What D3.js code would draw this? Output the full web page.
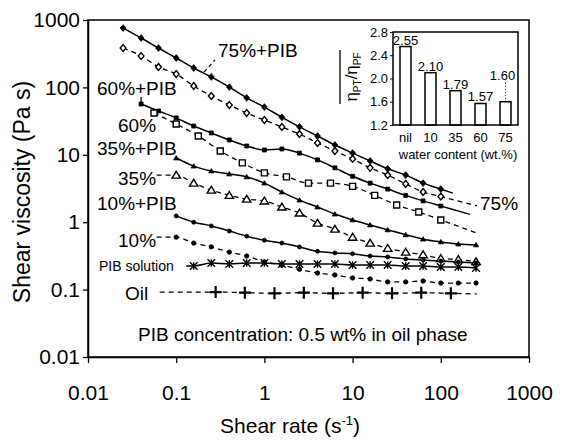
<!DOCTYPE html>
<html>
<head>
  <style>
    body, html { margin: 0; padding: 0; background: #fff; }
    svg text { font-family: Arial, "Liberation Sans", sans-serif; fill: #000; }
  </style>
</head>
<body>
  <svg id="svg" width="563" height="444"></svg>

  <script src="https://d3js.org/d3.v7.min.js"></script>
  <script>
    // shear rates (1/s) used by most curves, 0.2 decade apart
    const shearRate = [0.025, 0.04, 0.063, 0.1, 0.158, 0.25, 0.4, 0.63, 1, 1.58, 2.5, 4, 6.3, 10, 15.8, 25, 40, 63, 100, 158, 251]
    const shearRate60 = [0.056, 0.1, 0.178, 0.316, 0.562, 1, 1.78, 3.16, 5.62, 10, 17.8, 31.6, 56.2, 100]
    const oilRate = [0.28, 0.6, 1.3, 2.8, 6, 13, 28, 60, 130]

    // viscosities (Pa s)
    const visc75PIB = [760, 541, 384, 273, 194, 143, 101, 70, 51, 36, 26, 19, 14, 10.6, 8.1, 6.2, 5.0, 3.8, 3.1, null, null]
    const visc75 = [384, 292, 201, 158, 105, 74.5, 54.8, 41.7, 32.8, 25.8, 20.3, 15.0, 11.4, 8.7, 6.4, 5.0, 3.7, 2.8, 2.4, null, null]
    const visc60PIB = [null, 56.7, 44.7, 35.2, 26.7, 21.1, 16.6, 13.5, 11.8, 12.2, 10.6, 8.4, 6.4, 4.8, 3.8, 3.1, 2.5, 2.07, 1.74, null, null]
    const visc60 = [41.7, 28.6, 19.0, 11.4, 7.6, 5.4, 4.7, 3.8, 3.8, 3.4, 2.5, 1.8, 1.42, 1.08]
    const visc35PIB = [null, null, null, 8.97, 6.8, 5.75, 5.2, 4.7, 3.8, 2.8, 2.13, 1.68, 1.32, 1.08, 0.91, 0.77, 0.65, 0.56, 0.51, 0.475, 0.46]
    const visc35 = [null, null, null, 5.0, 3.8, 3.0, 2.5, 2.2, 2.07, 1.68, 1.37, 0.97, 0.79, 0.60, 0.49, 0.41, 0.36, 0.33, 0.29, 0.28, 0.26]
    const visc10PIB = [null, null, null, 1.24, 1.0, 0.88, 0.74, 0.62, 0.54, 0.49, 0.43, 0.37, 0.35, 0.34, 0.315, 0.305, 0.285, 0.275, 0.265, 0.257, 0.248]
    const visc10 = [null, null, null, 0.60, 0.49, 0.43, 0.36, 0.315, 0.257, 0.23, 0.20, 0.176, 0.165, 0.149, 0.144, 0.130, 0.130, 0.134, 0.125, 0.125, 0.125]
    const viscPIBSolution = [null, null, null, null, 0.224, 0.248, 0.24, 0.248, 0.248, 0.24, 0.24, 0.24, 0.24, 0.232, 0.232, 0.232, 0.224, 0.224, 0.216, 0.216, 0.209]
    const viscOil = [0.092, 0.09, 0.088, 0.09, 0.088, 0.09, 0.088, 0.09, 0.088]

    const axisTicks = [0.01, 0.1, 1, 10, 100, 1000]

    // inset: viscosity ratio with / without PIB
    const waterContent = ['nil', '10', '35', '60', '75']
    const viscRatio = [2.55, 2.10, 1.79, 1.57, 1.60]
    const ratioTicks = [1.2, 1.6, 2.0, 2.4, 2.8]

    const svg = d3.select('#svg')
    const plotLeft = 88, plotRight = 529, plotTop = 20, plotBottom = 357

    const x = d3.scaleLog().domain([0.01, 1000]).range([plotLeft, plotRight])
    const y = d3.scaleLog().domain([0.01, 1000]).range([plotBottom, plotTop])

    // from/to: where the fitted line starts / stops (shear rate)
    const seriesList = [
      { rates: shearRate, visc: visc75PIB, dashed: false, shape: 'diamond', fill: true, size: 3.4, to: 137 },
      { rates: shearRate, visc: visc75, dashed: true, shape: 'diamond', fill: false, size: 3.4, to: 256 },
      { rates: shearRate, visc: visc60PIB, dashed: false, shape: 'square', fill: true, size: 2, to: 214 },
      { rates: shearRate60, visc: visc60, dashed: true, shape: 'square', fill: false, size: 3, to: 256 },
      { rates: shearRate, visc: visc35PIB, dashed: false, shape: 'triangle', fill: true, size: 2.4 },
      { rates: shearRate, visc: visc35, dashed: true, shape: 'triangle', fill: false, size: 3.8, from: 0.06 },
      { rates: shearRate, visc: visc10PIB, dashed: false, shape: 'circle', fill: true, size: 2 },
      { rates: shearRate, visc: visc10, dashed: true, shape: 'circle', fill: true, size: 2.2, from: 0.06 },
      { rates: shearRate, visc: viscPIBSolution, dashed: false, shape: 'asterisk', fill: false, size: 3.8, from: 0.13 },
      { rates: oilRate, visc: viscOil, dashed: true, shape: 'plus', fill: false, size: 6, from: 0.065, to: 256 }
    ]

    function markerPath(shape, s) {
      switch (shape) {
        case 'diamond': return `M0,${-s}L${s * 0.85},0L0,${s}L${-s * 0.85},0Z`
        case 'square': return `M${-s},${-s}H${s}V${s}H${-s}Z`
        case 'triangle': return `M0,${-s}L${s * 1.1},${s * 0.8}L${-s * 1.1},${s * 0.8}Z`
        case 'circle': return `M${s},0A${s},${s} 0 1 1 ${-s},0A${s},${s} 0 1 1 ${s},0Z`
        case 'asterisk': return `M${-s},${-s}L${s},${s}M${-s},${s}L${s},${-s}M0,${-s}V${s}`
        case 'plus': return `M${-s},0H${s}M0,${-s}V${s}`
      }
    }

    // extend the fitted line: flat at the start, following the slope at the end
    function linePoints(pts, from, to) {
      const out = pts.slice()
      if (from) out.unshift([from, pts[0][1]])
      if (to) {
        const a = pts[pts.length - 2], b = pts[pts.length - 1]
        const slope = Math.log10(b[1] / a[1]) / Math.log10(b[0] / a[0])
        out.push([to, b[1] * Math.pow(to / b[0], slope)])
      }
      return out
    }

    const lineGen = d3.line()
      .x(d => x(d[0]))
      .y(d => y(d[1]))
      .curve(d3.curveMonotoneX)

    const graph = svg.append('g')

    seriesList.forEach(s => {
      const pts = s.rates.map((r, i) => [r, s.visc[i]]).filter(d => d[1] != null)
      graph.append('path')
        .attr('d', lineGen(linePoints(pts, s.from, s.to)))
        .attr('fill', 'none')
        .attr('stroke', '#000')
        .attr('stroke-width', s.dashed ? 1.3 : 1.5)
        .attr('stroke-dasharray', s.dashed ? '5,4' : null)
      s.pts = pts
    })

    seriesList.forEach(s => {
      const open = s.shape === 'asterisk' || s.shape === 'plus'
      graph.selectAll(null)
        .data(s.pts)
        .join('path')
        .attr('transform', d => `translate(${x(d[0])},${y(d[1])})`)
        .attr('d', markerPath(s.shape, s.size))
        .attr('fill', open ? 'none' : (s.fill ? '#000' : '#fff'))
        .attr('stroke', '#000')
        .attr('stroke-width', s.shape === 'plus' ? 2.2 : (s.fill ? 0.8 : 1.4))
    })

    // frame
    svg.append('rect')
      .attr('x', plotLeft).attr('y', plotTop)
      .attr('width', plotRight - plotLeft).attr('height', plotBottom - plotTop)
      .attr('fill', 'none').attr('stroke', '#000').attr('stroke-width', 1.5)

    const leftAxis = d3.axisLeft(y).tickValues(axisTicks).tickFormat(d3.format('~g'))
      .tickSize(5).tickSizeOuter(0).tickPadding(3)
    const gy = svg.append('g').attr('transform', `translate(${plotLeft},0)`).call(leftAxis)

    const bottomAxis = d3.axisBottom(x).tickValues(axisTicks).tickFormat(d3.format('~g'))
      .tickSize(6).tickSizeOuter(0).tickPadding(22)
    const gx = svg.append('g').attr('transform', `translate(0,${plotBottom})`).call(bottomAxis)

    ;[gx, gy].forEach(g => {
      g.select('.domain').attr('stroke-width', 1.5)
      g.selectAll('.tick line').attr('stroke-width', 1.3)
      g.selectAll('.tick text').attr('font-size', 21).attr('font-family', 'Arial, "Liberation Sans", sans-serif')
    })

    // axis titles
    const xTitle = svg.append('text')
      .attr('x', 290).attr('y', 433)
      .attr('text-anchor', 'middle').attr('font-size', 21)
    xTitle.append('tspan').text('Shear rate (s')
    xTitle.append('tspan').attr('dy', -8).attr('font-size', 13).text('-1')
    xTitle.append('tspan').attr('dy', 8).text(')')

    svg.append('text')
      .attr('transform', 'translate(30,192) rotate(-90)')
      .attr('text-anchor', 'middle').attr('font-size', 23)
      .text('Shear viscosity (Pa s)')

    // curve labels
    const curveLabels = [
      { text: '75%+PIB', x: 218, y: 50, size: 19 },
      { text: '60%+PIB', x: 97, y: 88, size: 19 },
      { text: '60%', x: 118, y: 125, size: 19 },
      { text: '35%+PIB', x: 97, y: 148, size: 19 },
      { text: '35%', x: 118, y: 178, size: 19 },
      { text: '10%+PIB', x: 97, y: 203, size: 19 },
      { text: '10%', x: 118, y: 240, size: 19 },
      { text: 'PIB solution', x: 99, y: 266, size: 14 },
      { text: 'Oil', x: 125, y: 293, size: 19 },
      { text: '75%', x: 480, y: 203, size: 19 },
      { text: 'PIB concentration: 0.5 wt% in oil phase', x: 138, y: 334, size: 19 }
    ]
    svg.selectAll('.curve-label')
      .data(curveLabels)
      .join('text')
      .attr('class', 'curve-label')
      .attr('x', d => d.x).attr('y', d => d.y)
      .attr('dy', '0.35em')
      .attr('font-size', d => d.size)
      .text(d => d.text)

    // leader lines
    svg.append('line')
      .attr('x1', 204).attr('y1', 72).attr('x2', 215).attr('y2', 60)
      .attr('stroke', '#000').attr('stroke-width', 1.2).attr('stroke-dasharray', '4,3')
    svg.append('line')
      .attr('x1', x(shearRate[1])).attr('x2', x(shearRate[1]))
      .attr('y1', y(visc60PIB[1]) - 7).attr('y2', y(visc60PIB[1]))
      .attr('stroke', '#000').attr('stroke-width', 1.3)

    // ---- inset bar chart ----
    const ix = d3.scaleBand().domain(waterContent).range([393, 518])
      .paddingInner(0.56).paddingOuter(0.28)
    const iy = d3.scaleLinear().domain([1.2, 2.8]).range([125, 32])

    const inset = svg.append('g')

    inset.selectAll('rect.bar')
      .data(waterContent)
      .join('rect')
      .attr('class', 'bar')
      .attr('x', d => ix(d))
      .attr('width', ix.bandwidth())
      .attr('y', (d, i) => iy(viscRatio[i]))
      .attr('height', (d, i) => iy(1.2) - iy(viscRatio[i]))
      .attr('fill', '#fff').attr('stroke', '#000').attr('stroke-width', 1.5)

    inset.append('rect')
      .attr('x', 393).attr('y', 32).attr('width', 125).attr('height', 93)
      .attr('fill', 'none').attr('stroke', '#000').attr('stroke-width', 1.5)

    const iyAxis = inset.append('g').attr('transform', 'translate(393,0)')
      .call(d3.axisLeft(iy).tickValues(ratioTicks).tickFormat(d3.format('.1f')).tickSize(3).tickSizeOuter(0).tickPadding(2))
    iyAxis.select('.domain').remove()
    iyAxis.selectAll('.tick text').attr('font-size', 13).attr('font-family', 'Arial, "Liberation Sans", sans-serif')

    inset.selectAll('text.cat')
      .data(waterContent)
      .join('text')
      .attr('class', 'cat')
      .attr('x', d => ix(d) + ix.bandwidth() / 2)
      .attr('y', 142)
      .attr('text-anchor', 'middle').attr('font-size', 13)
      .text(d => d)

    inset.append('text')
      .attr('x', 458).attr('y', 159)
      .attr('text-anchor', 'middle').attr('font-size', 13)
      .text('water content (wt.%)')

    // value labels; the last one sits higher with a dotted pointer
    const lift = 20
    inset.selectAll('text.val')
      .data(waterContent)
      .join('text')
      .attr('class', 'val')
      .attr('x', (d, i) => ix(d) + ix.bandwidth() / 2 - (i === 4 ? 3 : 0))
      .attr('y', (d, i) => iy(viscRatio[i]) - 2 - (i === 4 ? lift : 0))
      .attr('text-anchor', 'middle').attr('font-size', 13)
      .text((d, i) => viscRatio[i].toFixed(2))

    inset.append('line')
      .attr('x1', ix('75') + ix.bandwidth() / 2).attr('x2', ix('75') + ix.bandwidth() / 2)
      .attr('y1', iy(viscRatio[4]) - lift + 1).attr('y2', iy(viscRatio[4]))
      .attr('stroke', '#000').attr('stroke-width', 1).attr('stroke-dasharray', '1,2')

    // inset y title: overlined eta_PT / eta_PF
    const ititle = inset.append('g').attr('transform', 'translate(357,77) rotate(-90)')
    const it = ititle.append('text').attr('text-anchor', 'middle').attr('font-size', 17)
    it.append('tspan').text('η')
    it.append('tspan').attr('dy', 4).attr('font-size', 10).text('PT')
    it.append('tspan').attr('dy', -4).text('/η')
    it.append('tspan').attr('dy', 4).attr('font-size', 10).text('PF')
    ititle.append('line')
      .attr('x1', -27).attr('x2', 27).attr('y1', -17).attr('y2', -17)
      .attr('stroke', '#000').attr('stroke-width', 1.3)
  </script>
</body>
</html>
